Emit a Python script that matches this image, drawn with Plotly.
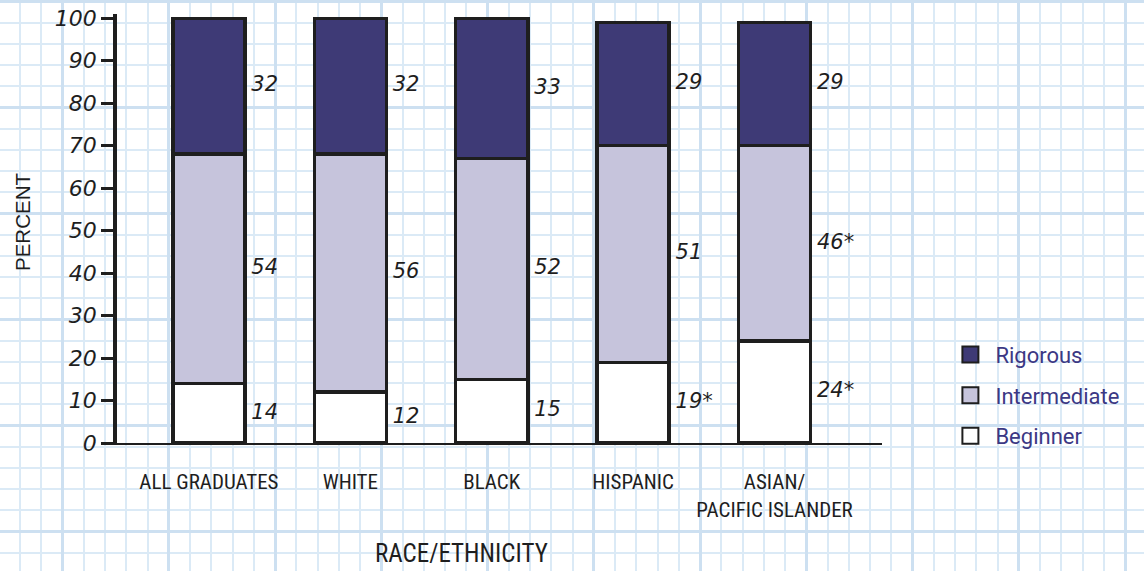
import plotly.graph_objects as go

categories = ["ALL GRADUATES", "WHITE", "BLACK", "HISPANIC", "ASIAN/<br>PACIFIC ISLANDER"]
beginner = [14, 12, 15, 19, 24]
intermediate = [54, 56, 52, 51, 46]
rigorous = [32, 32, 33, 29, 29]
beginner_lbl = ["14", "12", "15", "19*", "24*"]
intermediate_lbl = ["54", "56", "52", "51", "46*"]
rigorous_lbl = ["32", "32", "33", "29", "29"]
y_ticks = [0, 10, 20, 30, 40, 50, 60, 70, 80, 90, 100]

C_RIG = "#3e3a76"
C_INT = "#c6c4dc"
C_BEG = "#ffffff"
INK = "#1e1e1e"
HAND = dict(family="DejaVu Sans", size=21, color=INK, style="italic")
COND = "Liberation Sans Narrow, Roboto Condensed, Liberation Sans"

W, H = 1144, 571
xs = list(range(len(categories)))

fig = go.Figure()

# background graph paper (pixel-space axes, grid only)
fig.add_trace(go.Scatter(x=[0], y=[0], mode="markers", marker=dict(opacity=0),
                         showlegend=False, hoverinfo="skip", xaxis="x", yaxis="y"))

for name, vals, col in [("Beginner", beginner, C_BEG), ("Intermediate", intermediate, C_INT),
                        ("Rigorous", rigorous, C_RIG)]:
    fig.add_trace(go.Bar(x=xs, y=vals, name=name, width=0.51,
                         marker=dict(color=col, line=dict(color=INK, width=3.5)),
                         showlegend=False, xaxis="x2", yaxis="y2"))

# value labels at segment midpoints, right of each bar
def mids(lower, vals):
    return [lo + v / 2 for lo, v in zip(lower, vals)]

zero = [0] * len(xs)
b_top = beginner
i_top = [b + i for b, i in zip(beginner, intermediate)]
for ys, lbls in [(mids(zero, beginner), beginner_lbl),
                 (mids(b_top, intermediate), intermediate_lbl),
                 (mids(i_top, rigorous), rigorous_lbl)]:
    fig.add_trace(go.Scatter(x=[x + 0.3 for x in xs], y=ys, text=lbls, mode="text",
                             textposition="middle right", textfont=HAND,
                             showlegend=False, hoverinfo="skip", xaxis="x2", yaxis="y2"))

# legend proxies
for name, col in [("Rigorous", C_RIG), ("Intermediate", C_INT), ("Beginner", C_BEG)]:
    fig.add_trace(go.Scatter(x=[None], y=[None], mode="markers", name=name, legendgroup=name,
                             marker=dict(symbol="square", size=20, color=col,
                                         line=dict(color=INK, width=2)),
                             xaxis="x2", yaxis="y2"))

minor_col = "#dbeaf6"
major_col = "#cde0f1"
fig.update_layout(
    width=W, height=H,
    margin=dict(l=0, r=0, t=0, b=0, autoexpand=False),
    paper_bgcolor="white", plot_bgcolor="rgba(0,0,0,0)",
    barmode="stack",
    showlegend=True,
    legend=dict(x=0.8264, y=0.4155, xanchor="left", yanchor="top",
                font=dict(family="Roboto", size=22, color="#3c3884"),
                bgcolor="rgba(0,0,0,0)", traceorder="grouped", tracegroupgap=9,
                itemwidth=40),
    xaxis=dict(domain=[0, 1], range=[0, W], showgrid=True, gridcolor=major_col, gridwidth=2.5,
               tick0=62.5, dtick=106.25, showticklabels=False, zeroline=False, ticks="",
               minor=dict(showgrid=True, gridcolor=minor_col, gridwidth=1.5, tick0=62.5, dtick=21.25),
               fixedrange=True, automargin=False),
    yaxis=dict(domain=[0, 1], range=[H, 0], showgrid=True, gridcolor=major_col, gridwidth=2.5,
               tick0=1.5, dtick=106, showticklabels=False, zeroline=False, ticks="",
               minor=dict(showgrid=True, gridcolor=minor_col, gridwidth=1.5, tick0=1.5, dtick=21.2),
               fixedrange=True, automargin=False),
    xaxis2=dict(domain=[117 / W, 882 / W], range=[-0.65, 4.76], anchor="y2",
                tickvals=xs, ticktext=categories, ticks="", showgrid=False, zeroline=False,
                showline=True, linecolor=INK, linewidth=2, automargin=False,
                tickfont=dict(family=COND, size=21, color=INK),
                ticklabelstandoff=19),
    yaxis2=dict(domain=[(H - 443) / H, (H - 14) / H], range=[0, 101], anchor="x2",
                tickvals=y_ticks, ticks="outside", ticklen=12, tickwidth=2.5, tickcolor=INK,
                showline=True, linecolor=INK, linewidth=3.5, showgrid=False, zeroline=False,
                automargin=False,
                tickfont=dict(family="DejaVu Sans", size=22, color=INK, style="italic"),
                ticklabelstandoff=0),
    annotations=[
        dict(text="PERCENT", xref="paper", yref="paper", x=22 / W, y=(H - 222) / H,
             xanchor="center", yanchor="middle",
             textangle=-90, showarrow=False,
             font=dict(family="Liberation Sans", size=20.5, color=INK)),
        dict(text="RACE/ETHNICITY", xref="paper", yref="paper", x=461 / W, y=(H - 553) / H,
             xanchor="center", yanchor="middle",
             showarrow=False,
             font=dict(family=COND, size=25, color=INK)),
    ],
)

fig.write_html("out.html", config={"displayModeBar": False},
               post_script="document.body.style.margin='0px';")
